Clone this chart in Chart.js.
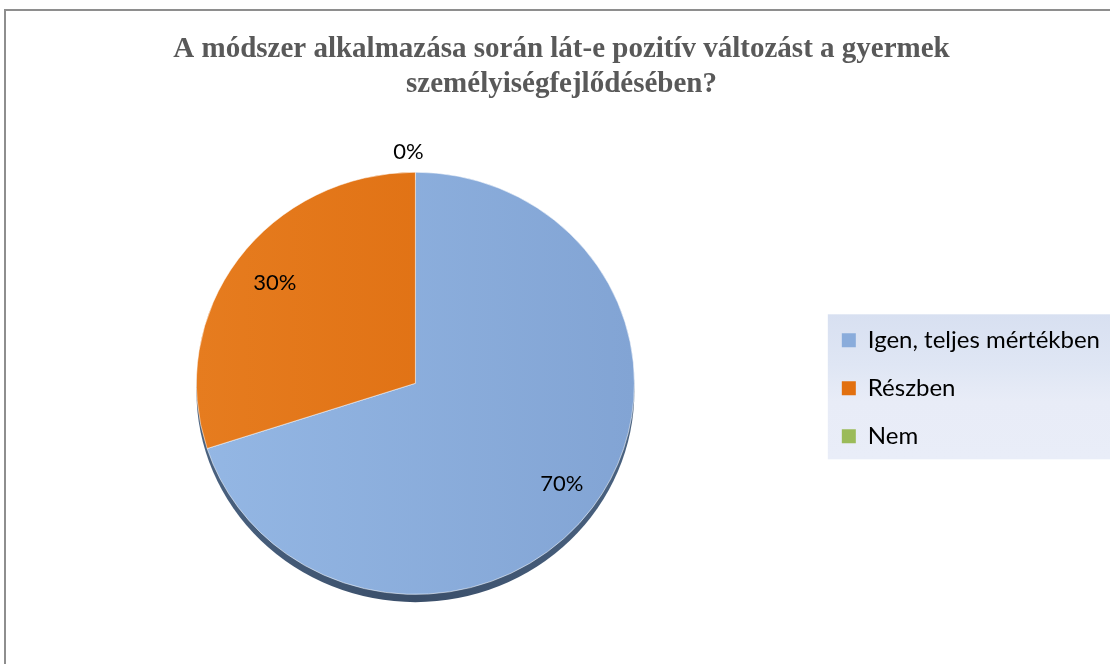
<!DOCTYPE html>
<html>
<head>
<meta charset="utf-8">
<script src="https://cdn.jsdelivr.net/npm/chart.js@4.4.1/dist/chart.umd.min.js"></script>
<style>
  html, body { margin: 0; padding: 0; background: #ffffff; }
  #wrap { width: 1110px; height: 664px; }
</style>
</head>
<body>
<div id="wrap"><canvas id="c" width="1110" height="664"></canvas></div>
<script>
// ---- data ----
const titleLines = ['A módszer alkalmazása során lát-e pozitív változást a gyermek', 'személyiségfejlődésében?'];
const categories = ['Igen, teljes mértékben', 'Részben', 'Nem'];
const values = [70, 30, 0];
const solidColors = ['#8aacdb', '#e2700f', '#9bbb59'];
const gradientStops = [['#94b7e4', '#82a4d4'], ['#e67c1f', '#dc6a0c'], ['#a3c460', '#93b353']];

const SQUASH = 0.964;
const LABEL_FONT = '22px Lato, "Open Sans", sans-serif';

function sliceFill(ctx) {
  const chart = ctx.chart;
  const i = ctx.dataIndex;
  const area = chart.chartArea;
  if (i === undefined) return solidColors[0];
  if (!area || !Number.isFinite(area.left) || !Number.isFinite(area.right)) return solidColors[i];
  const cx = (area.left + area.right) / 2;
  const r = 219;
  const g = chart.ctx.createLinearGradient(cx - r, 0, cx + r, 0);
  g.addColorStop(0, gradientStops[i][0]);
  g.addColorStop(1, gradientStops[i][1]);
  return g;
}

const framePlugin = {
  id: 'frame',
  beforeDraw(chart) {
    const c = chart.ctx;
    c.save();
    c.fillStyle = '#ffffff';
    c.fillRect(0, 0, chart.width, chart.height);
    c.strokeStyle = '#8e8e8e';
    c.lineWidth = 2;
    c.beginPath();
    c.moveTo(5, chart.height);
    c.lineTo(5, 10);
    c.lineTo(chart.width, 10);
    c.stroke();
    const lg = chart.legend;
    if (lg && lg.legendHitBoxes && lg.legendHitBoxes.length) {
      const hb = lg.legendHitBoxes;
      const first = hb[0], last = hb[hb.length - 1];
      const top = first.top - 14;
      const bottom = last.top + last.height + 11;
      const left = first.left - 14;
      const g = c.createLinearGradient(0, top, 0, bottom);
      g.addColorStop(0, '#d8e0f1');
      g.addColorStop(0.35, '#dfe6f4');
      g.addColorStop(0.6, '#e8ecf7');
      g.addColorStop(1, '#e9edf8');
      c.fillStyle = g;
      c.fillRect(left, top, chart.width - left, bottom - top);
    }
    c.restore();
  }
};

const pie3dPlugin = {
  id: 'pie3d',
  beforeDatasetsDraw(chart) {
    const meta = chart.getDatasetMeta(0);
    const arc = meta.data[0];
    const c = chart.ctx;
    c.save();
    if (!arc || !Number.isFinite(arc.x) || !Number.isFinite(arc.outerRadius)) return;
    c.translate(arc.x, arc.y);
    c.scale(1, SQUASH);
    c.translate(-arc.x, -arc.y);
    c.save();
    const g = c.createLinearGradient(arc.x - arc.outerRadius, 0, arc.x + arc.outerRadius, 0);
    g.addColorStop(0, '#4a6280');
    g.addColorStop(0.5, '#3a4e69');
    g.addColorStop(1, '#4a6280');
    c.fillStyle = g;
    c.beginPath();
    c.arc(arc.x, arc.y + 8, arc.outerRadius, 0, Math.PI * 2);
    c.fill();
    c.restore();
  },
  afterDatasetsDraw(chart) {
    const c = chart.ctx;
    c.restore();
    const meta = chart.getDatasetMeta(0);
    const total = values.reduce((a, b) => a + b, 0);
    c.save();
    c.font = LABEL_FONT;
    c.fillStyle = '#000000';
    c.textAlign = 'center';
    c.textBaseline = 'middle';
    meta.data.forEach((arc, i) => {
      const p = arc.getProps(['x', 'y', 'startAngle', 'endAngle', 'outerRadius'], true);
      if (!Number.isFinite(p.x)) return;
      const mid = (p.startAngle + p.endAngle) / 2;
      const pct = Math.round(values[i] / total * 100) + '%';
      let r;
      if (values[i] > 0) {
        r = p.outerRadius * 0.81;
        c.fillText(pct, p.x + Math.cos(mid) * r + 3, p.y + Math.sin(mid) * r * SQUASH);
      } else {
        r = p.outerRadius * SQUASH + 20;
        c.fillText(pct, p.x + Math.cos(mid) * r - 7, p.y + Math.sin(mid) * r);
      }
    });
    c.restore();
  }
};

const baseGen = Chart.overrides.pie.plugins.legend.labels.generateLabels;

new Chart(document.getElementById('c'), {
  type: 'pie',
  data: {
    labels: categories,
    datasets: [{
      data: values,
      backgroundColor: sliceFill,
      borderColor: 'rgba(255,255,255,0.55)',
      borderWidth: 1
    }]
  },
  options: {
    responsive: false,
    animation: false,
    events: [],
    radius: 219,
    layout: { padding: { left: 13, right: 0, top: 0, bottom: 63 } },
    plugins: {
      tooltip: { enabled: false },
      title: {
        display: true,
        text: titleLines,
        color: '#595959',
        font: { family: '"Liberation Serif", "Times New Roman", serif', size: 29, weight: 'bold', lineHeight: 1.2 },
        padding: { top: 32, bottom: 64 }
      },
      legend: {
        position: 'right',
        fullSize: false,
        title: { display: true, text: '', font: { size: 10, lineHeight: 1 }, padding: 0 },
        labels: {
          boxWidth: 14,
          boxHeight: 14,
          padding: 24,
          color: '#000000',
          font: { family: 'Lato, "Open Sans", sans-serif', size: 24 },
          generateLabels(chart) {
            const items = baseGen(chart);
            items.forEach((it, i) => { it.fillStyle = solidColors[i]; it.lineWidth = 0; it.strokeStyle = 'rgba(0,0,0,0)'; });
            return items;
          }
        }
      }
    }
  },
  plugins: [framePlugin, pie3dPlugin]
});
</script>
</body>
</html>
